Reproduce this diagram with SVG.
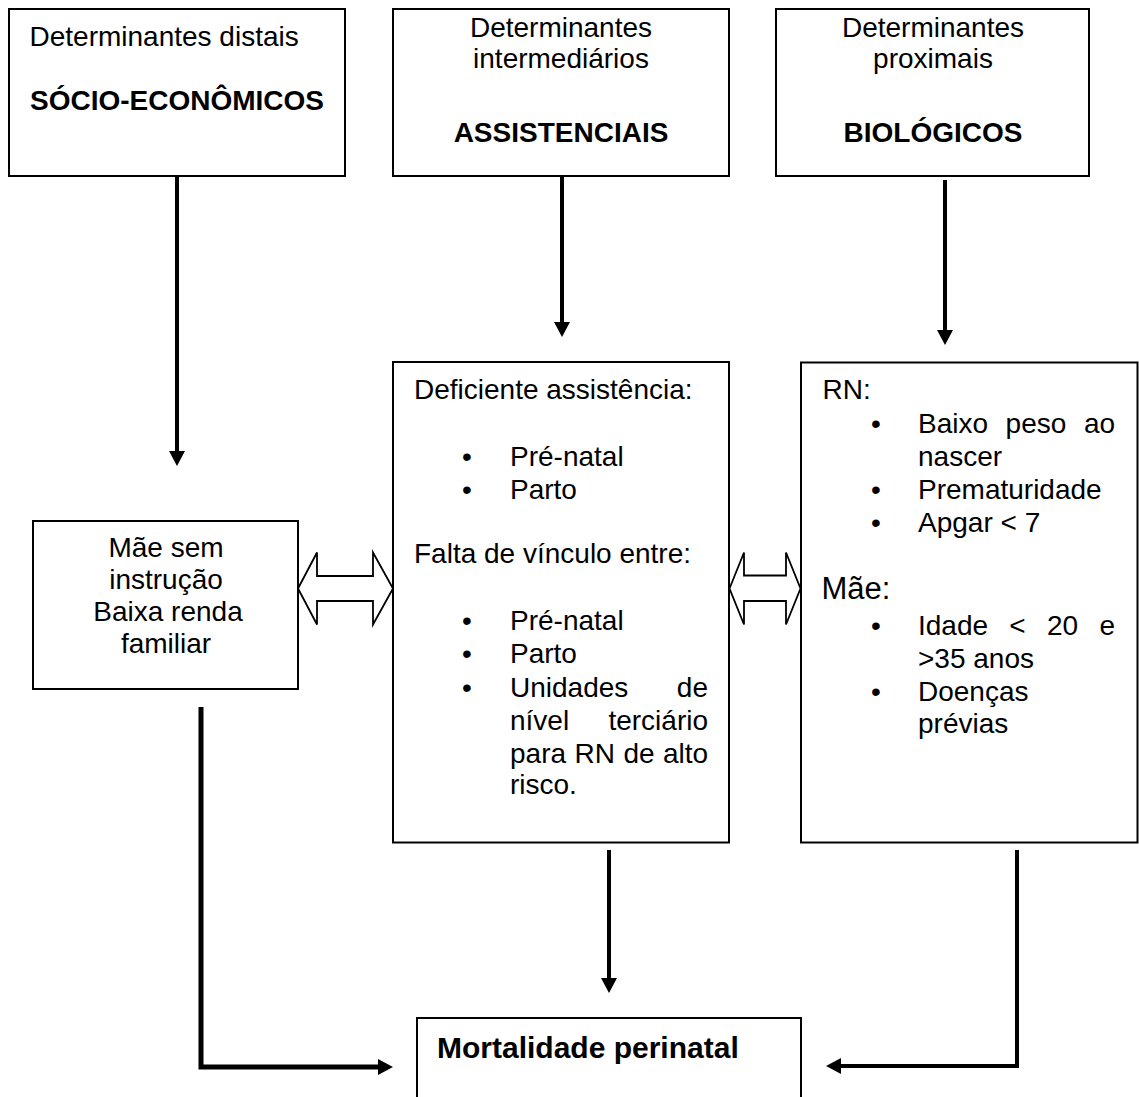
<svg xmlns="http://www.w3.org/2000/svg" width="1139" height="1097" viewBox="0 0 1139 1097">
<style>
.box{fill:#fff;stroke:#000;stroke-width:2}
.dbl{fill:#fff;stroke:#000;stroke-width:1.8;stroke-linejoin:miter}
.t{font-family:"Liberation Sans",Arial,sans-serif;font-size:28px;fill:#000}
.b{font-weight:bold}
.m{text-anchor:middle}
.e{text-anchor:end}
.conn{fill:none;stroke:#000;stroke-width:4;stroke-linejoin:miter}
</style>
<defs>
<marker id="ah" markerUnits="userSpaceOnUse" markerWidth="15" markerHeight="16" viewBox="0 0 15 16" refX="0" refY="8" orient="auto">
<path d="M0,0 L15,8 L0,16 Z" fill="#000"/>
</marker>
</defs>
<rect width="1139" height="1097" fill="#fff"/>

<g id="connectors">
<path class="conn" d="M177,171 V451" marker-end="url(#ah)"/>
<path class="conn" d="M562,171 V322" marker-end="url(#ah)"/>
<path class="conn" d="M945,180 V330" marker-end="url(#ah)"/>
<path class="conn" d="M609,850 V978" marker-end="url(#ah)"/>
<path class="conn" style="stroke-width:5" d="M201,707 V1067 H378" marker-end="url(#ah)"/>
<path class="conn" d="M1017,850 V1066 H841" marker-end="url(#ah)"/>
<polygon class="dbl" points="298,588.5 317,552.5 317,576 373,576 373,552.5 393,588.5 373,624.5 373,601 317,601 317,624.5"/>
<polygon class="dbl" points="729.5,588.5 744,552.5 744,575.5 786,575.5 786,552.5 800.5,588.5 786,624.5 786,601 744,601 744,624.5"/>
</g>

<g id="node-socio">
<rect class="box" x="9" y="9" width="336" height="167"/>
<text class="t" x="29.5" y="46">Determinantes distais</text>
<text class="t b" x="30" y="110">SÓCIO-ECONÔMICOS</text>
</g>

<g id="node-assist">
<rect class="box" x="393" y="9" width="336" height="167"/>
<text class="t m" x="561" y="37">Determinantes</text>
<text class="t m" x="561" y="68">intermediários</text>
<text class="t b m" x="561" y="142">ASSISTENCIAIS</text>
</g>

<g id="node-bio">
<rect class="box" x="776" y="9" width="313" height="167"/>
<text class="t m" x="933" y="37">Determinantes</text>
<text class="t m" x="933" y="68">proximais</text>
<text class="t b m" x="933" y="142">BIOLÓGICOS</text>
</g>

<g id="node-mae">
<rect class="box" x="33" y="521" width="265" height="168"/>
<text class="t m" x="166" y="557">Mãe sem</text>
<text class="t m" x="166" y="589">instrução</text>
<text class="t m" x="168" y="621">Baixa renda</text>
<text class="t m" x="166" y="653">familiar</text>
</g>

<g id="node-deficiente">
<rect class="box" x="393" y="362" width="336" height="480.5"/>
<text class="t" x="414" y="399">Deficiente assistência:</text>
<text class="t m" x="467" y="466">•</text><text class="t" x="510" y="466">Pré-natal</text>
<text class="t m" x="467" y="499">•</text><text class="t" x="510" y="499">Parto</text>
<text class="t" x="414" y="563">Falta de vínculo entre:</text>
<text class="t m" x="467" y="630">•</text><text class="t" x="510" y="630">Pré-natal</text>
<text class="t m" x="467" y="663">•</text><text class="t" x="510" y="663">Parto</text>
<text class="t m" x="467" y="697">•</text><text class="t" x="510" y="697">Unidades</text><text class="t e" x="708" y="697">de</text>
<text class="t" x="510" y="730">nível</text><text class="t e" x="708" y="730">terciário</text>
<text class="t" y="763"><tspan x="510">para</tspan><tspan x="574.5">RN</tspan><tspan x="623.4">de</tspan><tspan x="663">alto</tspan></text>
<text class="t" x="510" y="794">risco.</text>
</g>

<g id="node-rn">
<rect class="box" x="801" y="362.5" width="336.5" height="480"/>
<text class="t" x="822.5" y="399">RN:</text>
<text class="t m" x="876" y="433">•</text>
<text class="t" y="433"><tspan x="918">Baixo</tspan><tspan x="1005.6">peso</tspan><tspan x="1083.9">ao</tspan></text>
<text class="t" x="918" y="466">nascer</text>
<text class="t m" x="876" y="499">•</text><text class="t" x="918" y="499">Prematuridade</text>
<text class="t m" x="876" y="532">•</text><text class="t" x="918" y="532">Apgar &lt; 7</text>
<text class="t" x="821.5" y="599" style="font-size:31px">Mãe:</text>
<text class="t m" x="876" y="635">•</text>
<text class="t" y="635"><tspan x="918">Idade</tspan><tspan x="1009.3">&lt;</tspan><tspan x="1047">20</tspan><tspan x="1099.4">e</tspan></text>
<text class="t" x="918" y="668">&gt;35 anos</text>
<text class="t m" x="876" y="701">•</text><text class="t" x="918" y="701">Doenças</text>
<text class="t" x="918" y="733">prévias</text>
</g>

<g id="node-mortalidade">
<rect class="box" x="417" y="1018" width="384" height="120"/>
<text class="t b" x="437" y="1058" style="font-size:30px">Mortalidade perinatal</text>
</g>
</svg>
